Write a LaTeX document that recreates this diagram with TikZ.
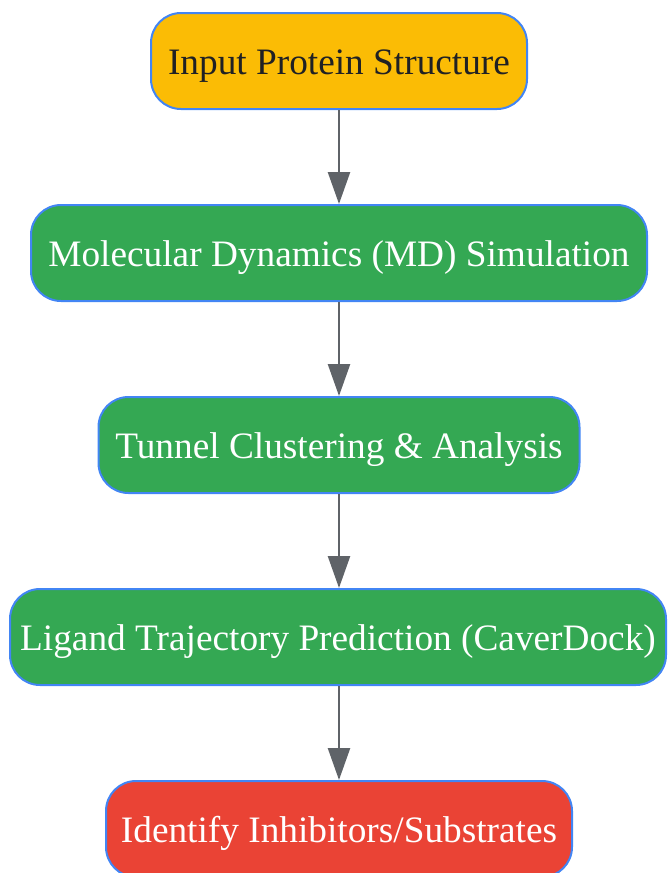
\documentclass[tikz,border=0pt]{standalone}
\usepackage{fontspec}
\setmainfont{Liberation Serif}
\usetikzlibrary{arrows.meta}
\definecolor{gyellow}{HTML}{FBBC05}
\definecolor{ggreen}{HTML}{34A853}
\definecolor{gred}{HTML}{EA4335}
\definecolor{gblue}{HTML}{4285F4}
\definecolor{ggray}{HTML}{5F6368}
\definecolor{gtext}{HTML}{202124}
\tikzset{
  box/.style={draw=gblue, line width=2pt, rounded corners=30pt, inner sep=0pt,
    minimum height=96pt, text=white, font=\fontsize{37.3}{40}\selectfont,
    text height=35pt, text depth=8pt},
  flow/.style={draw=ggray, line width=2.5pt, -{Triangle[length=32pt,width=22pt]}}
}
\begin{document}
\begin{tikzpicture}[x=1pt,y=-1pt]
\useasboundingbox (0,0) rectangle (667,873);
\node[box, fill=gyellow, text=gtext, minimum width=376pt] (a) at (339,61) {Input Protein Structure};
\node[box, fill=ggreen, minimum width=616pt] (b) at (339,253) {Molecular Dynamics (MD) Simulation};
\node[box, fill=ggreen, minimum width=481pt] (c) at (339,445) {Tunnel Clustering \& Analysis};
\node[box, fill=ggreen, minimum width=656pt] (d) at (338,637) {Ligand Trajectory Prediction (CaverDock)};
\node[box, fill=gred, minimum width=466pt] (e) at (339,829) {Identify Inhibitors/Substrates};
\draw[flow] (a) -- (b);
\draw[flow] (b) -- (c);
\draw[flow] (c.south) -- (c.south |- d.north);
\draw[flow] (d.south -| e.north) -- (e.north);
\end{tikzpicture}
\end{document}
